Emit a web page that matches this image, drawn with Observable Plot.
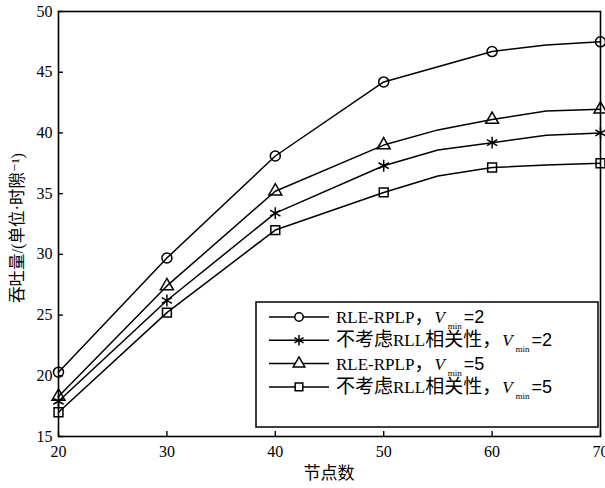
<!DOCTYPE html>
<html><head><meta charset="utf-8">
<script src="https://cdn.jsdelivr.net/npm/d3@7"></script>
<script src="https://cdn.jsdelivr.net/npm/@observablehq/plot@0.6"></script>
<style>body{margin:0;background:#fff}</style>
</head><body><div id="chart"></div>
<script>
// x positions of the polyline vertices and of the markers
const lineX = [20, 30, 40, 50, 55, 60, 65, 70];
const markerX = [20, 30, 40, 50, 60, 70];
const xTicks = [20, 30, 40, 50, 60, 70];
const yTicks = [15, 20, 25, 30, 35, 40, 45, 50];
// legend names split into [chinese-prefix, latin, chinese-suffix]
const seriesNames = [["", "RLE-RPLP", ""], ["不考虑", "RLL", "相关性"], ["", "RLE-RPLP", ""], ["不考虑", "RLL", "相关性"]];
const vminValues = ["2", "2", "5", "5"];
const symbols = ["circle", "asterisk", "triangle", "square"];
// series values at lineX
const rlerplp2 = [20.3, 29.7, 38.1, 44.2, 45.45, 46.7, 47.25, 47.5];
const noRll2   = [17.9, 26.2, 33.4, 37.3, 38.6, 39.2, 39.8, 40.0];
const rlerplp5 = [18.3, 27.4, 35.2, 39.0, 40.25, 41.1, 41.8, 41.95];
const noRll5   = [17.0, 25.2, 32.0, 35.1, 36.45, 37.15, 37.35, 37.5];
const seriesValues = [rlerplp2, noRll2, rlerplp5, noRll5];

const xLabel = "节点数";
const yLabel = "吞吐量/(单位·时隙⁻¹)";

const rows = [];
seriesValues.forEach((vals, s) => vals.forEach((v, i) => rows.push({s, x: lineX[i], y: v})));
const markerRows = rows.filter(d => markerX.includes(d.x));
const rFor = {circle: 5, asterisk: 5.6, triangle: 4.8, square: 5};

const W = 605, H = 488;
const serif = "Liberation Serif, DejaVu Serif, Noto Sans CJK SC, serif";
const cjk = "Noto Sans CJK SC, sans-serif";

const marks = [
  Plot.frame({stroke: "black", strokeWidth: 1.6}),
  Plot.axisX(xTicks, {tickSize: -5, tickPadding: 14, fontSize: 16, fontFamily: serif, strokeWidth: 1.4}),
  Plot.axisY(yTicks, {tickSize: -5, tickPadding: 11, fontSize: 16, fontFamily: serif, strokeWidth: 1.4}),
  Plot.line(rows, {x: "x", y: "y", z: "s", stroke: "black", strokeWidth: 1.5})
];
symbols.forEach((sym, s) => {
  marks.push(Plot.dot(markerRows.filter(d => d.s === s), {x: "x", y: "y", symbol: () => sym, r: rFor[sym], stroke: "black", strokeWidth: 1.5, fill: "none"}));
});

const chart = Plot.plot({
  width: W, height: H,
  marginLeft: 58, marginRight: 5, marginTop: 11, marginBottom: 52,
  style: {background: "white", color: "black", fontFamily: serif},
  x: {domain: [20, 70], label: null},
  y: {domain: [15, 50], label: null},
  symbol: {type: "identity"},
  marks
});
document.getElementById("chart").appendChild(chart);

const svg = d3.select(chart);
// axis titles
svg.append("text").attr("x", 329).attr("y", 479).attr("text-anchor", "middle")
  .attr("font-family", serif).attr("font-size", 17).attr("fill", "black").text(xLabel);
svg.append("text").attr("transform", "translate(23,228) rotate(-90)").attr("text-anchor", "middle")
  .attr("font-family", serif).attr("font-size", 16.5).attr("fill", "black").text(yLabel);

// legend
const lg = svg.append("g").attr("text-anchor", "start");
lg.append("rect").attr("x", 256).attr("y", 302).attr("width", 342).attr("height", 125)
  .attr("fill", "white").attr("stroke", "black").attr("stroke-width", 1.5);
const symMap = {circle: d3.symbolCircle, asterisk: d3.symbolAsterisk, triangle: d3.symbolTriangle, square: d3.symbolSquare};
const legR = {circle: 4.2, asterisk: 5, triangle: 4.3, square: 4.3};
seriesNames.forEach((parts, i) => {
  const cy = 317 + i * 23.3;
  lg.append("line").attr("x1", 269).attr("x2", 329).attr("y1", cy).attr("y2", cy)
    .attr("stroke", "black").attr("stroke-width", 1.5);
  const sym = symbols[i];
  lg.append("path").attr("transform", `translate(299,${cy})`)
    .attr("d", d3.symbol(symMap[sym], Math.PI * legR[sym] * legR[sym])())
    .attr("fill", "white").attr("stroke", "black").attr("stroke-width", 1.5);
  const t = lg.append("text").attr("x", 336).attr("y", cy + 6).attr("text-anchor", "start")
    .attr("font-family", serif).attr("font-size", 17).attr("fill", "black");
  if (parts[0]) t.append("tspan").attr("font-family", cjk).attr("font-size", 19).text(parts[0]);
  t.append("tspan").text(parts[1]);
  t.append("tspan").attr("font-family", cjk).attr("font-size", 19).text(parts[2] + "，");
  t.append("tspan").attr("font-style", "italic").attr("dx", 1).text("V");
  t.append("tspan").attr("font-size", 9).attr("dy", 6).attr("dx", 3).text("min");
  t.append("tspan").attr("font-family", "Liberation Sans, Arial, sans-serif").attr("font-size", 18).attr("dy", -6).attr("dx", 2).text("=" + vminValues[i]);
});
</script></body></html>
